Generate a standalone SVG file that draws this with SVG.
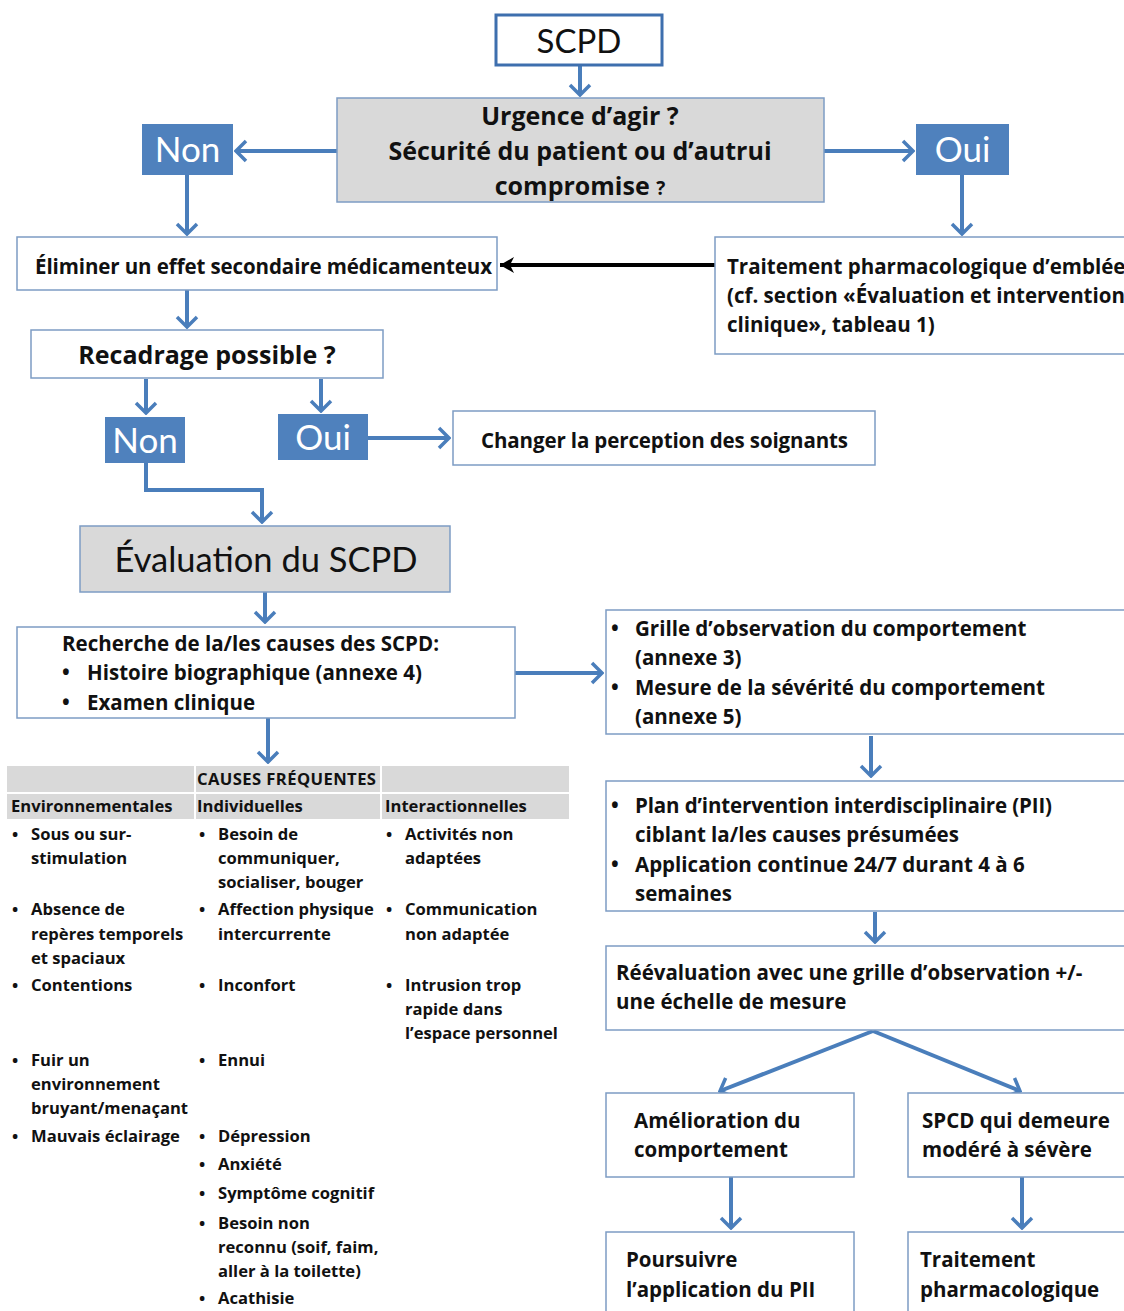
<svg xmlns="http://www.w3.org/2000/svg" width="1124" height="1311" viewBox="0 0 1124 1311">
<defs>
<style>
.box{fill:#ffffff;stroke:#7d9cc4;stroke-width:1.5}
.gray{fill:#d9d9d9;stroke:#7d9cc4;stroke-width:1.5}
.blue{fill:#4f81bd}
.th{fill:#d9d9d9}
text{font-family:"Open Sans","Liberation Sans",sans-serif;fill:#111111}
.r{font-family:Lato,"Open Sans",sans-serif;font-weight:normal}
.b{font-weight:bold}
.w{fill:#ffffff;font-size:35px;font-family:Lato,"Open Sans",sans-serif}
.m{font-size:20.5px;font-weight:bold}
.s{font-size:16.6px;font-weight:bold}
.conn path{stroke:#4a7ebb;stroke-width:4;fill:none}
</style>
<marker id="ah" markerUnits="userSpaceOnUse" viewBox="-14 -12 16 24" markerWidth="16" markerHeight="24" refX="0" refY="0" orient="auto">
<path d="M-10,-10 L0,0 L-10,10" fill="none" stroke="#4a7ebb" stroke-width="3.5"/>
</marker>
<marker id="bh" markerUnits="userSpaceOnUse" viewBox="-16 -10 18 20" markerWidth="18" markerHeight="20" refX="0" refY="0" orient="auto">
<path d="M-14,-8 L0,0 L-14,8 L-10,0 Z" fill="#000000"/>
</marker>
</defs>
<rect width="1124" height="1311" fill="#ffffff"/>

<g id="connectors" class="conn">
<path d="M580,65 V95" marker-end="url(#ah)"/>
<path d="M337,151 H236" marker-end="url(#ah)"/>
<path d="M824,151 H913" marker-end="url(#ah)"/>
<path d="M187,175 V234" marker-end="url(#ah)"/>
<path d="M962,175 V234" marker-end="url(#ah)"/>
<path d="M715,265 H500" style="stroke:#000000" marker-end="url(#bh)"/>
<path d="M187,290 V327" marker-end="url(#ah)"/>
<path d="M146,379 V413" marker-end="url(#ah)"/>
<path d="M321,379 V411" marker-end="url(#ah)"/>
<path d="M368,438 H449" marker-end="url(#ah)"/>
<path d="M146,463 V490 H262 V522" marker-end="url(#ah)"/>
<path d="M265,592 V622" marker-end="url(#ah)"/>
<path d="M515,673 H602" marker-end="url(#ah)"/>
<path d="M268,718 V762" marker-end="url(#ah)"/>
<path d="M871,736 V776" marker-end="url(#ah)"/>
<path d="M875,912 V942" marker-end="url(#ah)"/>
<path d="M873,1031 L720,1091" marker-end="url(#ah)"/>
<path d="M873,1031 L1020,1091" marker-end="url(#ah)"/>
<path d="M731,1177 V1228" marker-end="url(#ah)"/>
<path d="M1022,1177 V1228" marker-end="url(#ah)"/>
</g>

<g id="scpd">
<rect x="496" y="15" width="166" height="50" fill="#ffffff" stroke="#3e6fae" stroke-width="3"/>
<text class="r" x="579" y="53" text-anchor="middle" font-size="33">SCPD</text>
</g>

<g id="urgence">
<rect class="gray" x="337" y="98" width="487" height="104"/>
<text class="b" x="580" y="125" text-anchor="middle" font-size="25">Urgence d’agir ?</text>
<text class="b" x="580" y="160" text-anchor="middle" font-size="25">Sécurité du patient ou d’autrui</text>
<text class="b" x="580" y="195" text-anchor="middle" font-size="25">compromise <tspan font-size="19">?</tspan></text>
</g>

<g id="non1">
<rect class="blue" x="142" y="124" width="91" height="51"/>
<text class="w" x="187.5" y="162" text-anchor="middle">Non</text>
</g>

<g id="oui1">
<rect class="blue" x="916" y="124" width="93" height="51"/>
<text class="w" x="962.5" y="162" text-anchor="middle">Oui</text>
</g>

<g id="eliminer">
<rect class="box" x="17" y="237" width="480" height="53"/>
<text class="m" x="35" y="274" textLength="457">Éliminer un effet secondaire médicamenteux</text>
</g>

<g id="traitement-emblee">
<rect class="box" x="715" y="237" width="420" height="117"/>
<text class="m" x="727" y="274">Traitement pharmacologique d’emblée</text>
<text class="m" x="727" y="303">(cf. section «Évaluation et intervention</text>
<text class="m" x="727" y="332">clinique», tableau 1)</text>
</g>

<g id="recadrage">
<rect class="box" x="31" y="330" width="352" height="48"/>
<text class="b" x="207" y="364" text-anchor="middle" font-size="25">Recadrage possible ?</text>
</g>

<g id="non2">
<rect class="blue" x="105" y="417" width="80" height="46"/>
<text class="w" x="145" y="453" text-anchor="middle">Non</text>
</g>

<g id="oui2">
<rect class="blue" x="278" y="414" width="90" height="46"/>
<text class="w" x="323" y="450" text-anchor="middle">Oui</text>
</g>

<g id="changer">
<rect class="box" x="453" y="411" width="422" height="54"/>
<text class="m" x="481" y="448" textLength="367">Changer la perception des soignants</text>
</g>

<g id="evaluation">
<rect class="gray" x="80" y="526" width="370" height="66"/>
<text class="r" x="266" y="572" text-anchor="middle" font-size="34.5">Évaluation du SCPD</text>
</g>

<g id="recherche">
<rect class="box" x="17" y="627" width="498" height="91"/>
<text class="m" x="62" y="651">Recherche de la/les causes des SCPD:</text>
<text class="m" x="62" y="680">•</text>
<text class="m" x="87" y="680">Histoire biographique (annexe 4)</text>
<text class="m" x="62" y="710">•</text>
<text class="m" x="87" y="710">Examen clinique</text>
</g>

<g id="causes-table">
<rect class="th" x="7" y="766" width="187" height="26"/>
<rect class="th" x="196" y="766" width="184" height="26"/>
<rect class="th" x="382" y="766" width="187" height="26"/>
<rect class="th" x="7" y="794" width="187" height="25"/>
<rect class="th" x="196" y="794" width="184" height="25"/>
<rect class="th" x="382" y="794" width="187" height="25"/>
<text class="s" x="197" y="785" textLength="179">CAUSES FRÉQUENTES</text>
<text class="s" x="11" y="812">Environnementales</text>
<text class="s" x="197" y="812">Individuelles</text>
<text class="s" x="385" y="812">Interactionnelles</text>

<text class="s" x="12" y="840">•</text>
<text class="s" x="31" y="840">Sous ou sur-</text>
<text class="s" x="31" y="864">stimulation</text>
<text class="s" x="12" y="915">•</text>
<text class="s" x="31" y="915">Absence de</text>
<text class="s" x="31" y="940">repères temporels</text>
<text class="s" x="31" y="964">et spaciaux</text>
<text class="s" x="12" y="991">•</text>
<text class="s" x="31" y="991">Contentions</text>
<text class="s" x="12" y="1066">•</text>
<text class="s" x="31" y="1066">Fuir un</text>
<text class="s" x="31" y="1090">environnement</text>
<text class="s" x="31" y="1114">bruyant/menaçant</text>
<text class="s" x="12" y="1142">•</text>
<text class="s" x="31" y="1142">Mauvais éclairage</text>

<text class="s" x="199" y="840">•</text>
<text class="s" x="218" y="840">Besoin de</text>
<text class="s" x="218" y="864">communiquer,</text>
<text class="s" x="218" y="888">socialiser, bouger</text>
<text class="s" x="199" y="915">•</text>
<text class="s" x="218" y="915">Affection physique</text>
<text class="s" x="218" y="940">intercurrente</text>
<text class="s" x="199" y="991">•</text>
<text class="s" x="218" y="991">Inconfort</text>
<text class="s" x="199" y="1066">•</text>
<text class="s" x="218" y="1066">Ennui</text>
<text class="s" x="199" y="1142">•</text>
<text class="s" x="218" y="1142">Dépression</text>
<text class="s" x="199" y="1170">•</text>
<text class="s" x="218" y="1170">Anxiété</text>
<text class="s" x="199" y="1199">•</text>
<text class="s" x="218" y="1199">Symptôme cognitif</text>
<text class="s" x="199" y="1229">•</text>
<text class="s" x="218" y="1229">Besoin non</text>
<text class="s" x="218" y="1253">reconnu (soif, faim,</text>
<text class="s" x="218" y="1277">aller à la toilette)</text>
<text class="s" x="199" y="1304">•</text>
<text class="s" x="218" y="1304">Acathisie</text>

<text class="s" x="386" y="840">•</text>
<text class="s" x="405" y="840">Activités non</text>
<text class="s" x="405" y="864">adaptées</text>
<text class="s" x="386" y="915">•</text>
<text class="s" x="405" y="915">Communication</text>
<text class="s" x="405" y="940">non adaptée</text>
<text class="s" x="386" y="991">•</text>
<text class="s" x="405" y="991">Intrusion trop</text>
<text class="s" x="405" y="1015">rapide dans</text>
<text class="s" x="405" y="1039">l’espace personnel</text>
</g>

<g id="grille">
<rect class="box" x="606" y="610" width="530" height="124"/>
<text class="m" x="611" y="636">•</text>
<text class="m" x="635" y="636">Grille d’observation du comportement</text>
<text class="m" x="635" y="665">(annexe 3)</text>
<text class="m" x="611" y="695">•</text>
<text class="m" x="635" y="695">Mesure de la sévérité du comportement</text>
<text class="m" x="635" y="724">(annexe 5)</text>
</g>

<g id="plan">
<rect class="box" x="606" y="781" width="530" height="130"/>
<text class="m" x="611" y="813">•</text>
<text class="m" x="635" y="813" textLength="417">Plan d’intervention interdisciplinaire (PII)</text>
<text class="m" x="635" y="842">ciblant la/les causes présumées</text>
<text class="m" x="611" y="872">•</text>
<text class="m" x="635" y="872">Application continue 24/7 durant 4 à 6</text>
<text class="m" x="635" y="901">semaines</text>
</g>

<g id="reevaluation">
<rect class="box" x="606" y="946" width="530" height="84"/>
<text class="m" x="616" y="980">Réévaluation avec une grille d’observation +/-</text>
<text class="m" x="616" y="1009">une échelle de mesure</text>
</g>

<g id="amelioration">
<rect class="box" x="606" y="1093" width="248" height="84"/>
<text class="m" x="634" y="1128">Amélioration du</text>
<text class="m" x="634" y="1157">comportement</text>
</g>

<g id="spcd-severe">
<rect class="box" x="908" y="1093" width="228" height="84"/>
<text class="m" x="922" y="1128">SPCD qui demeure</text>
<text class="m" x="922" y="1157">modéré à sévère</text>
</g>

<g id="poursuivre">
<rect class="box" x="606" y="1232" width="248" height="90"/>
<text class="m" x="626" y="1267">Poursuivre</text>
<text class="m" x="626" y="1297">l’application du PII</text>
</g>

<g id="traitement-pharma">
<rect class="box" x="908" y="1232" width="228" height="90"/>
<text class="m" x="920" y="1267">Traitement</text>
<text class="m" x="920" y="1297">pharmacologique</text>
</g>
</svg>
